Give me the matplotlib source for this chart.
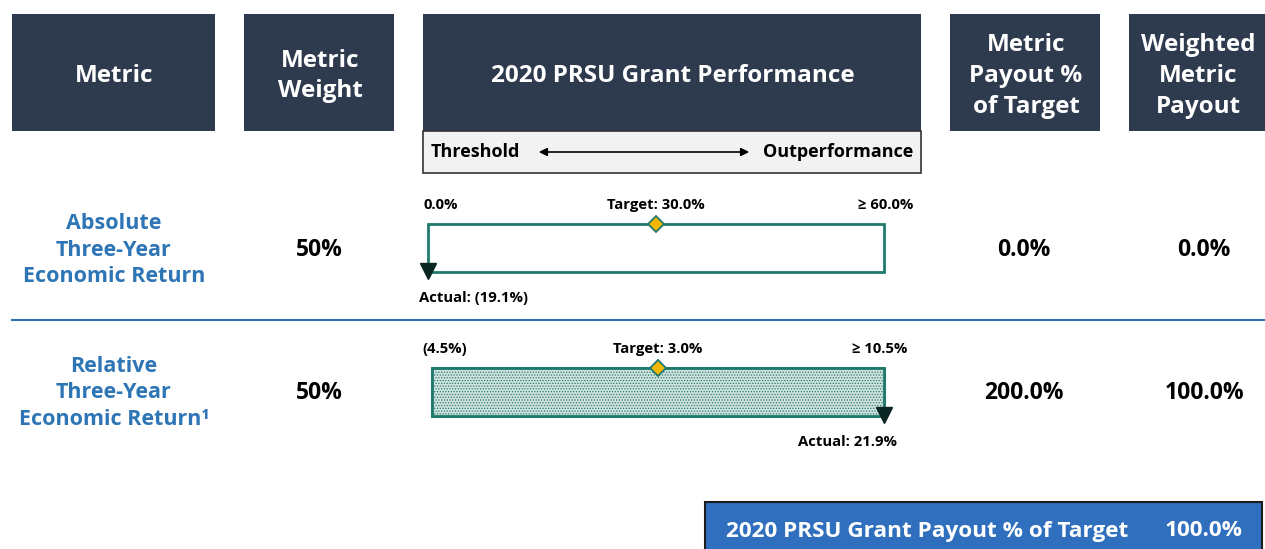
import matplotlib.pyplot as plt
from matplotlib.patches import Rectangle, FancyArrowPatch

W, H = 1265, 549

# data
headers = ["Metric", "Metric\nWeight", "2020 PRSU Grant Performance",
           "Metric\nPayout %\nof Target", "Weighted\nMetric\nPayout"]
metrics = ["Absolute\nThree-Year\nEconomic Return", "Relative\nThree-Year\nEconomic Return\u00b9"]
weights = ["50%", "50%"]
threshold = [0.0, -4.5]
target = [30.0, 3.0]
maximum = [60.0, 10.5]
actual = [-19.1, 21.9]
threshold_lbl = ["0.0%", "(4.5%)"]
target_lbl = ["Target: 30.0%", "Target: 3.0%"]
max_lbl = ["\u2265 60.0%", "\u2265 10.5%"]
actual_lbl = ["Actual: (19.1%)", "Actual: 21.9%"]
payout = ["0.0%", "200.0%"]
weighted = ["0.0%", "100.0%"]
total_lbl = "2020 PRSU Grant Payout % of Target"
total = "100.0%"

NAVY = "#2e3a4e"
BLUE = "#2e75b6"
TEAL = "#1f7a6c"

plt.rcParams['font.family'] = ['Open Sans', 'DejaVu Sans']
plt.rcParams['font.weight'] = 'bold'
plt.rcParams['hatch.color'] = "#8fb0ab"
plt.rcParams['hatch.linewidth'] = 0.6

fig = plt.figure(figsize=(W / 100, H / 100), dpi=100)
ax = fig.add_axes([0, 0, 1, 1])
ax.set_xlim(0, W)
ax.set_ylim(H, 0)
ax.axis('off')

# header boxes
cols = [(12, 215), (244, 394), (423, 921), (950, 1100), (1129, 1265)]
for (x0, x1), txt in zip(cols, headers):
    ax.add_patch(Rectangle((x0, 14), x1 - x0, 117, color=NAVY, lw=0))
    ax.text((x0 + x1) / 2 + 1, 76, txt, color="white", fontsize=17.5, fontweight="bold",
            ha="center", va="center", linespacing=1.37)

# threshold / outperformance box
ax.add_patch(Rectangle((423, 131), 498, 42, facecolor="#f2f2f2", edgecolor="#333333", lw=1.2))
ax.text(431, 152, "Threshold", fontsize=13, fontweight="bold", ha="left", va="center")
ax.text(913, 152, "Outperformance", fontsize=13, fontweight="bold", ha="right", va="center")
ax.add_patch(FancyArrowPatch((536, 152), (752, 152), arrowstyle="<|-|>", mutation_scale=12,
                             color="black", lw=1.2))

# separator
ax.plot([12, 1265], [320, 320], color=BLUE, lw=1.5)

row_y = [250, 393]
bar_top = [224, 368]
bar_x = [(428, 884), (432, 884)]
for i in range(2):
    y = row_y[i]
    ax.text(114, y, metrics[i], color=BLUE, fontsize=15.5, fontweight="bold",
            ha="center", va="center", linespacing=1.32)
    ax.text(319, y, weights[i], fontsize=16.5, fontweight="bold", ha="center", va="center")
    ax.text(1024, y, payout[i], fontsize=16.5, fontweight="bold", ha="center", va="center")
    ax.text(1204, y, weighted[i], fontsize=16.5, fontweight="bold", ha="center", va="center")

    # bar axes in data units
    x0, x1 = bar_x[i]
    bax = fig.add_axes([x0 / W, 1 - (bar_top[i] + 48) / H, (x1 - x0) / W, 48 / H])
    bax.set_xlim(threshold[i], maximum[i])
    bax.set_ylim(0, 1)
    bax.axis('off')
    bax.add_patch(Rectangle((threshold[i], 0), maximum[i] - threshold[i], 1,
                            facecolor="white", edgecolor=TEAL, lw=2, clip_on=False))
    fill_to = min(max(actual[i], threshold[i]), maximum[i])
    if fill_to > threshold[i]:
        bax.barh(0.5, fill_to - threshold[i], left=threshold[i], height=1,
                 facecolor="#d2e2df", edgecolor=TEAL, lw=2, hatch="......", clip_on=False)
    bax.plot([target[i]], [1], marker="D", ms=8, mfc="#f2b705", mec=TEAL, mew=1.3, clip_on=False)
    bax.plot([fill_to], [0.02], marker="v", ms=12, color="#0b2622", clip_on=False)

    # labels
    ly = bar_top[i] - 19
    ax.text(x0 - 4 if i == 0 else x0 - 10, ly, threshold_lbl[i], fontsize=10.7, fontweight="bold",
            ha="left", va="center")
    ax.text((x0 + x1) / 2, ly, target_lbl[i], fontsize=10.7, fontweight="bold", ha="center", va="center")
    ax.text(913 if i == 0 else 907, ly, max_lbl[i], fontsize=10.7, fontweight="bold", ha="right", va="center")
    if i == 0:
        ax.text(419, 298, actual_lbl[i], fontsize=10.7, fontweight="bold", ha="left", va="center")
    else:
        ax.text(897, 442, actual_lbl[i], fontsize=10.7, fontweight="bold", ha="right", va="center")

# total box
ax.add_patch(Rectangle((705, 502), 557, 50, facecolor="#2f6fbe", edgecolor="#1c1c1c", lw=1.5))
ax.text(927, 531, total_lbl, color="white", fontsize=16.2, fontweight="bold", ha="center", va="center")
ax.text(1204, 531, total, color="white", fontsize=16.2, fontweight="bold", ha="center", va="center")

fig.savefig("out.png", dpi=100)
